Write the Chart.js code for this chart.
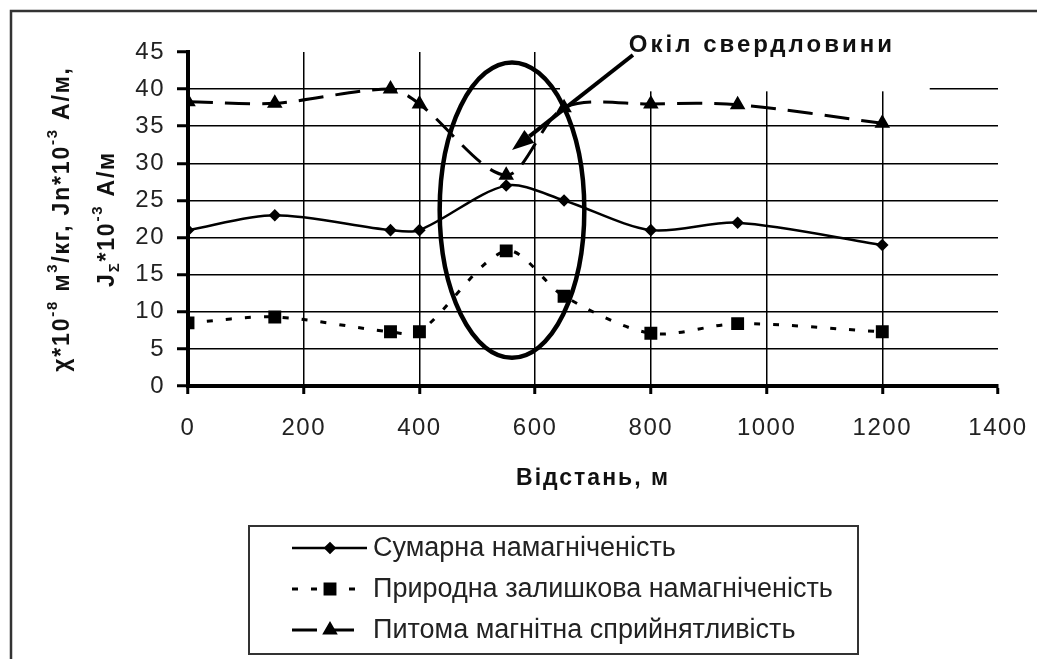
<!DOCTYPE html>
<html>
<head>
<meta charset="utf-8">
<script src="https://cdn.jsdelivr.net/npm/chart.js@4/dist/chart.umd.min.js"></script>
<style>
  html, body { margin: 0; padding: 0; background: #fff; }
  #wrap { width: 1037px; height: 659px; }
</style>
</head>
<body>
<div id="wrap"><canvas id="myChart" width="1037" height="659"></canvas></div>
<script>
'use strict';

// data
var distance = [0, 150, 350, 400, 550, 650, 800, 950, 1200];
var totalMag = [21, 23, 21, 21, 27, 25, 21, 22, 19];
var remanentMag = [8.5, 9.3, 7.3, 7.3, 18.2, 12.1, 7.1, 8.4, 7.3];
var susceptibility = [38.3, 38.1, 40, 38, 28.4, 37.5, 38, 37.9, 35.4];
var seriesNames = ['Сумарна намагніченість', 'Природна залишкова намагніченість', 'Питома магнітна сприйнятливість'];
var xTitle = 'Відстань, м';
var noteText = 'Окіл свердловини';

// annotation: ellipse around the well zone and the arrow to it (data units)
var wellZone = { cx: 560, cy: 23.7, rx: 125, ry: 19.9 };
var arrowFrom = { x: 769, y: 44.6 };
var arrowTo = { x: 560, y: 31.8 };
var noteAt = { x: 762, y: 45.9 };
var noteBox = { xMin: 643, xMax: 1282, yMin: 39.7 };

function pts(ys) {
    return distance.map(function (d, i) { return { x: d, y: ys[i] }; });
}

var FONT = '"Liberation Sans", Arial, sans-serif';

var frameAndText = {
    id: 'frameAndText',
    beforeDraw: function (chart) {
        chart.ctx.letterSpacing = '1.5px';
    },
    beforeDatasetsDraw: function (chart) {
        var c = chart.ctx, xs = chart.scales.x, ys = chart.scales.y;
        // white box behind the note hides some grid
        c.save();
        c.fillStyle = '#fff';
        var x0 = xs.getPixelForValue(noteBox.xMin), x1 = xs.getPixelForValue(noteBox.xMax);
        var yb = ys.getPixelForValue(noteBox.yMin);
        c.fillRect(x0, 14, x1 - x0, yb - 14);
        c.restore();
    },
    afterDatasetsDraw: function (chart) {
        var c = chart.ctx, xs = chart.scales.x, ys = chart.scales.y;
        c.save();
        c.strokeStyle = '#000';
        c.lineWidth = 4.5;
        // ellipse
        var cx = xs.getPixelForValue(wellZone.cx), cy = ys.getPixelForValue(wellZone.cy);
        var rx = xs.getPixelForValue(wellZone.cx + wellZone.rx) - cx;
        var ry = cy - ys.getPixelForValue(wellZone.cy + wellZone.ry);
        c.beginPath();
        c.ellipse(cx, cy, rx, ry, 0, 0, Math.PI * 2);
        c.stroke();
        // arrow
        var ax = xs.getPixelForValue(arrowFrom.x), ay = ys.getPixelForValue(arrowFrom.y);
        var bx = xs.getPixelForValue(arrowTo.x), by = ys.getPixelForValue(arrowTo.y);
        var ang = Math.atan2(by - ay, bx - ax);
        var hl = 22, hw = 8;
        var baseX = bx - hl * Math.cos(ang), baseY = by - hl * Math.sin(ang);
        c.lineWidth = 4;
        c.beginPath();
        c.moveTo(ax, ay);
        c.lineTo(baseX, baseY);
        c.stroke();
        c.fillStyle = '#000';
        c.beginPath();
        c.moveTo(bx, by);
        c.lineTo(baseX + hw * Math.sin(ang), baseY - hw * Math.cos(ang));
        c.lineTo(baseX - hw * Math.sin(ang), baseY + hw * Math.cos(ang));
        c.closePath();
        c.fill();
        // note text
        c.font = 'bold 24px ' + FONT;
        c.letterSpacing = '3px';
        c.textAlign = 'left';
        c.textBaseline = 'middle';
        c.fillStyle = '#111';
        c.fillText(noteText, xs.getPixelForValue(noteAt.x), ys.getPixelForValue(noteAt.y));
        c.restore();
    },
    afterDraw: function (chart) {
        var c = chart.ctx, ys = chart.scales.y;
        c.save();
        // outer frame (top and left only)
        c.strokeStyle = '#333';
        c.lineWidth = 2.5;
        c.beginPath();
        c.moveTo(1037, 11);
        c.lineTo(11, 11);
        c.lineTo(11, 659);
        c.stroke();

        // x title
        c.fillStyle = '#111';
        c.font = 'bold 23px ' + FONT;
        c.letterSpacing = '2px';
        c.textAlign = 'center';
        c.textBaseline = 'middle';
        c.fillText(xTitle, 593, 479);

        // y title, two rotated lines with super/subscripts
        var line1 = [['χ*10', 0], ['-8', 1], [' м', 0], ['3', 1], ['/кг, Jn*10', 0], ['-3', 1], [' А/м,', 0]];
        var line2 = [['J', 0], ['Σ', -1], ['*10', 0], ['-3', 1], [' А/м', 0]];
        var midY = ys.top + (ys.bottom - ys.top) / 2;
        drawRich(c, line1, 63, midY);
        drawRich(c, line2, 108, midY);

        // legend box
        c.letterSpacing = '0px';
        var lx = 249, ly = 526, lw = 609, lh = 128;
        c.strokeStyle = '#333';
        c.lineWidth = 2;
        c.strokeRect(lx, ly, lw, lh);
        var rows = [548, 589, 630];
        chart.data.datasets.forEach(function (ds, i) {
            var y = rows[i];
            c.save();
            c.strokeStyle = '#000';
            c.lineWidth = ds.borderWidth;
            c.setLineDash(ds.borderDash || []);
            c.beginPath();
            c.moveTo(292, y);
            c.lineTo(i === 2 ? 362 : 367, y);
            c.stroke();
            c.setLineDash([]);
            c.fillStyle = '#000';
            Chart.helpers.drawPoint(c, { pointStyle: ds.pointStyle, radius: ds.pointRadius, rotation: 0, borderWidth: 1 }, 330, y);
            c.restore();
            c.fillStyle = '#222';
            c.font = '27px ' + FONT;
            c.textAlign = 'left';
            c.textBaseline = 'middle';
            c.fillText(ds.label, 373, y + 1);
        });
        c.restore();
    }
};

function drawRich(c, parts, x, y) {
    var big = 'bold 23px ' + FONT, small = 'bold 15px ' + FONT;
    c.save();
    c.letterSpacing = '1.8px';
    var total = 0;
    parts.forEach(function (p) {
        c.font = p[1] ? small : big;
        total += c.measureText(p[0]).width;
    });
    c.translate(x, y);
    c.rotate(-Math.PI / 2);
    c.fillStyle = '#111';
    c.textBaseline = 'middle';
    c.textAlign = 'left';
    var pos = -total / 2;
    parts.forEach(function (p) {
        c.font = p[1] ? small : big;
        var dy = p[1] === 1 ? -10 : (p[1] === -1 ? 7 : 0);
        c.fillText(p[0], pos, dy);
        pos += c.measureText(p[0]).width;
    });
    c.restore();
}

function plainTick(v) { return String(v); }

var ctx = document.getElementById('myChart').getContext('2d');
var myChart = new Chart(ctx, {
    type: 'line',
    data: {
        datasets: [{
            label: seriesNames[0],
            data: pts(totalMag),
            borderColor: '#000',
            backgroundColor: '#000',
            borderWidth: 2.5,
            pointStyle: 'rectRot',
            pointRadius: 4.5,
            tension: 0.3,
            fill: false
        }, {
            label: seriesNames[1],
            data: pts(remanentMag),
            borderColor: '#000',
            backgroundColor: '#000',
            borderWidth: 3,
            borderDash: [6, 13],
            pointStyle: 'rect',
            pointRadius: 7,
            tension: 0.3,
            fill: false
        }, {
            label: seriesNames[2],
            data: pts(susceptibility),
            borderColor: '#000',
            backgroundColor: '#000',
            borderWidth: 3,
            borderDash: [25, 12],
            pointStyle: 'triangle',
            pointRadius: 6,
            tension: 0.3,
            fill: false
        }]
    },
    options: {
        responsive: false,
        animation: false,
        events: [],
        layout: { padding: { left: 0, top: 52, right: 39, bottom: 0 } },
        plugins: {
            legend: { display: false },
            tooltip: { enabled: false }
        },
        scales: {
            x: {
                type: 'linear',
                min: 0,
                max: 1400,
                afterFit: function (s) {
                    s.height = 659 - 386;
                    s.paddingLeft = 0;
                    s.paddingRight = 0;
                },
                border: { display: true, color: '#000', width: 4 },
                grid: {
                    color: function (c) { return (c.tick && (c.tick.value === 0 || c.tick.value === 1400)) ? 'rgba(0,0,0,0)' : '#000'; },
                    tickColor: '#000',
                    lineWidth: 1.5,
                    tickWidth: 3,
                    tickLength: 8
                },
                ticks: {
                    stepSize: 200,
                    color: '#222',
                    padding: 20,
                    maxRotation: 0,
                    callback: plainTick,
                    font: { family: FONT, size: 24 }
                }
            },
            y: {
                min: 0,
                max: 45,
                afterFit: function (s) {
                    s.width = 188;
                    s.paddingTop = 0;
                    s.paddingBottom = 0;
                },
                border: { display: true, color: '#000', width: 4 },
                grid: {
                    color: function (c) { return (c.tick && (c.tick.value === 0 || c.tick.value === 45)) ? 'rgba(0,0,0,0)' : '#000'; },
                    tickColor: '#000',
                    lineWidth: 1.5,
                    tickWidth: 3,
                    tickLength: 11
                },
                ticks: {
                    stepSize: 5,
                    color: '#222',
                    padding: 12,
                    callback: plainTick,
                    font: { family: FONT, size: 24 }
                }
            }
        }
    },
    plugins: [frameAndText]
});
</script>
</body>
</html>
